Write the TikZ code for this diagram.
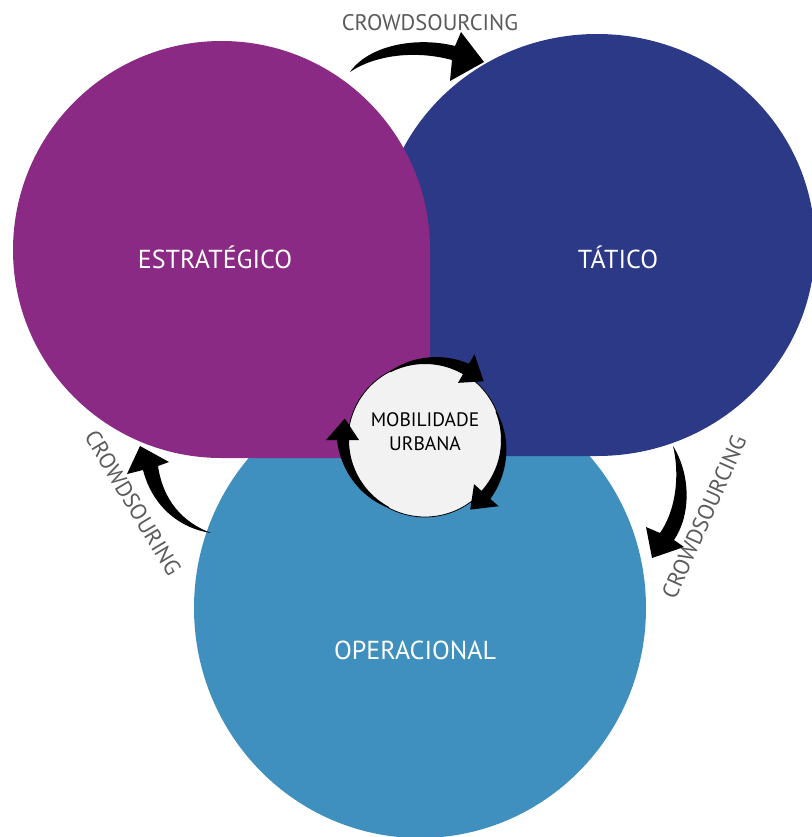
\documentclass[tikz,border=0pt]{standalone}
\usepackage{fontspec}
\setmainfont{PT Sans}
\definecolor{estrat}{HTML}{8B2A84}
\definecolor{tatico}{HTML}{2B3987}
\definecolor{operac}{HTML}{3F90BF}
\definecolor{hubfill}{HTML}{F2F2F2}
\definecolor{notegray}{HTML}{5B5B5B}
% tapered arc arrow around the hub, from angle #1 to angle #2 (clockwise on the page)
\newcommand{\cyclearc}[2]{%
  \fill[black] plot[domain=#1:#2,samples=40] (\x:76)
    -- (#2:66) -- ({#2+15}:83) -- (#2:99)
    -- plot[domain=#2:#1,samples=40] (\x:{77+11*(\x-(#1))/((#2)-(#1))}) -- cycle;}
\begin{document}
\begin{tikzpicture}[x=1pt,y=-1pt,
  tierlabel/.style={text=white,font=\fontsize{26}{30}\selectfont},
  crowdtext/.style={text=notegray,font=\fontsize{22.5}{26}\selectfont},
  hubtext/.style={text=black,align=center,font=\fontsize{19.5}{24}\selectfont}]
\useasboundingbox (0,0) rectangle (811,837);
% operational level
\fill[operac] (420,608) ellipse[x radius=226, y radius=230];
% tactical level: rounded except the lower left corner
\fill[tatico] (379,245)
  arc[start angle=180,end angle=270,x radius=218,y radius=211]
  arc[start angle=270,end angle=360,x radius=218,y radius=211]
  arc[start angle=0,end angle=90,x radius=218,y radius=211]
  -- (379,456) -- cycle;
% strategic level: rounded except the lower right corner
\fill[estrat] (13,250)
  arc[start angle=180,end angle=270,x radius=208.5,y radius=209]
  arc[start angle=270,end angle=360,x radius=208.5,y radius=209]
  -- (430,458) -- (221.5,458)
  arc[start angle=90,end angle=180,x radius=208.5,y radius=208]
  -- cycle;
% hub
\node[circle,fill=hubfill,draw=black,line width=0.8pt,minimum size=154pt,inner sep=0pt] (hub) at (425,440) {};
\begin{scope}[shift={(hub.center)}]
  \cyclearc{243}{300}
  \cyclearc{338}{402}
  \cyclearc{118}{180}
\end{scope}
\node[hubtext] (mob) at (425,432) {MOBILIDADE\\URBANA};
% level names
\node[tierlabel] (est) at (215,257) {ESTRATÉGICO};
\node[tierlabel] (tat) at (618,257) {TÁTICO};
\node[tierlabel] (ope) at (415,650) {OPERACIONAL};
% crowdsourcing swooshes between the levels
\fill[black] (350,72) .. controls (368,46) and (415,36) .. (455,46)
  -- (461,32) -- (484,62) -- (450,81) -- (452,60)
  .. controls (415,50) and (375,55) .. (350,72) -- cycle;
\fill[black] (673,446) .. controls (691,475) and (691,515) .. (674,540)
  -- (684,547) -- (652,558) -- (646,527) -- (660,533)
  .. controls (676,510) and (680,475) .. (673,446) -- cycle;
\fill[black] (211,533) .. controls (178,528) and (152,505) .. (143,470)
  -- (127,474) -- (140,446) -- (169,462) -- (158,466)
  .. controls (163,500) and (182,522) .. (211,533) -- cycle;
\node[crowdtext] (ctop) at (430,23) {CROWDSOURCING};
\node[crowdtext,rotate=-59] (cleft) at (133,503) {CROWDSOURING};
\node[crowdtext,rotate=66] (cright) at (704,517) {CROWDSOURCING};
\end{tikzpicture}
\end{document}
